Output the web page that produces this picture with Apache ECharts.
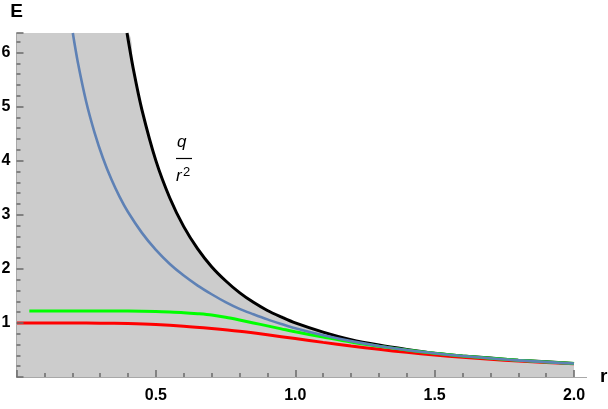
<!DOCTYPE html>
<html><head><meta charset="utf-8">
<script src="https://cdn.jsdelivr.net/npm/echarts@6/dist/echarts.min.js"></script>
<style>html,body{margin:0;padding:0;background:#fff}#c{width:608px;height:409px}</style>
</head><body><div id="c"></div>
<script>
// ---- data ----
const rBlack = [0.3965,0.42,0.45,0.5,0.55,0.6,0.65,0.7,0.75,0.8,0.85,0.9,0.95,1.0,1.1,1.2,1.3,1.4,1.5,1.6,1.7,1.8,1.9,2.0];
const eBlack = [6.36,5.67,4.94,4.0,3.31,2.78,2.37,2.04,1.78,1.56,1.38,1.23,1.11,1.0,0.83,0.69,0.59,0.51,0.44,0.39,0.35,0.31,0.28,0.25];
const rBlue  = [0.202,0.22,0.25,0.28,0.31,0.34,0.37,0.40,0.45,0.5,0.55,0.6,0.65,0.7,0.75,0.8,0.85,0.9,0.95,1.0,1.1,1.2,1.3,1.4,1.5,1.6,1.8,2.0];
const eBlue  = [6.36,5.82,5.09,4.52,4.05,3.66,3.33,3.05,2.665,2.35,2.09,1.875,1.69,1.53,1.385,1.26,1.16,1.065,0.98,0.90,0.77,0.663,0.574,0.50,0.44,0.388,0.308,0.25];
const rGreen = [0.046,0.2,0.3,0.4,0.5,0.55,0.6,0.65,0.7,0.75,0.8,0.85,0.9,0.95,1.0,1.1,1.2,1.3,1.4,1.5,1.6,1.8,2.0];
const eGreen = [1.222,1.222,1.221,1.218,1.212,1.203,1.19,1.17,1.145,1.105,1.055,1.0,0.945,0.89,0.835,0.74,0.648,0.57,0.50,0.44,0.39,0.31,0.25];
const rRed   = [0,0.1,0.2,0.3,0.4,0.5,0.6,0.7,0.8,0.9,1.0,1.1,1.2,1.3,1.4,1.5,1.6,1.7,1.8,1.9,2.0];
const eRed   = [1.0,1.0,0.999,0.996,0.987,0.97,0.94,0.897,0.846,0.781,0.71,0.64,0.574,0.511,0.456,0.407,0.365,0.328,0.296,0.268,0.244];
const yTop = 6.36;
const xMax = 2.0;
const xTickLabels = ['0.5','1.0','1.5','2.0'];
const yTickLabels = ['1','2','3','4','5','6'];

const zip = (a,b) => a.map((v,i)=>[v,b[i]]);
const grayArea = [[0, yTop]].concat(zip(rBlack, eBlack));

const chart = echarts.init(document.getElementById('c'), null, {renderer:'canvas'});
const axisGray = '#a8a8a8';
const tickGray = '#6f6f6f';
const labelFont = {color:'#000', fontWeight:'bold', fontSize:16, fontFamily:'Liberation Sans, Arial, sans-serif'};
const lineCommon = {type:'line', showSymbol:false, symbol:'none', smooth:0.3, animation:false, silent:true};

chart.setOption({
  animation:false,
  grid:{left:16.5, right:34, top:33, bottom:32, containLabel:false, outerBoundsMode:'none'},
  xAxis:{
    type:'value', min:0, max:xMax, interval:0.5, z:20,
    name:'r', nameLocation:'end', nameGap:26,
    nameTextStyle:{color:'#000', fontWeight:'bold', fontSize:19, fontFamily:'Liberation Sans, Arial, sans-serif', verticalAlign:'middle'},
    axisLine:{show:true, onZero:false, lineStyle:{color:axisGray, width:1}},
    axisTick:{show:true, inside:true, length:7, lineStyle:{color:tickGray, width:1.6}},
    minorTick:{show:true, splitNumber:5, length:4, lineStyle:{color:tickGray, width:1.6}},
    splitLine:{show:false},
    axisLabel:Object.assign({margin:11, formatter:function(v){const s=v.toFixed(1); return xTickLabels.indexOf(s)>=0 && Math.abs(v-parseFloat(s))<1e-9 ? s : '';}}, labelFont)
  },
  yAxis:{
    type:'value', min:0, max:yTop, interval:1, z:20,
    name:'E', nameLocation:'end', nameGap:12,
    nameTextStyle:{color:'#000', fontWeight:'bold', fontSize:19, fontFamily:'Liberation Sans, Arial, sans-serif', align:'center'},
    axisLine:{show:true, onZero:false, lineStyle:{color:axisGray, width:1}},
    axisTick:{show:true, inside:true, length:7, lineStyle:{color:tickGray, width:1.6}},
    minorTick:{show:true, splitNumber:5, length:4, lineStyle:{color:tickGray, width:1.6}},
    splitLine:{show:false},
    axisLabel:Object.assign({margin:6, showMaxLabel:false, formatter:function(v){const s=String(Math.round(v)); return (Math.abs(v-Math.round(v))<1e-9 && yTickLabels.indexOf(s)>=0) ? s : '';}}, labelFont)
  },
  series:[
    Object.assign({}, lineCommon, {name:'region', data:grayArea, lineStyle:{width:0}, areaStyle:{color:'#cccccc', opacity:1}, z:1}),
    Object.assign({}, lineCommon, {name:'q/r^2', data:zip(rBlack,eBlack), lineStyle:{color:'#000000', width:3}, z:2}),
    Object.assign({}, lineCommon, {name:'red', data:zip(rRed,eRed), lineStyle:{color:'#ff0000', width:3}, z:3}),
    Object.assign({}, lineCommon, {name:'green', data:zip(rGreen,eGreen), lineStyle:{color:'#00ff00', width:3}, z:4}),
    Object.assign({}, lineCommon, {name:'blue', data:zip(rBlue,eBlue), lineStyle:{color:'#5e81b5', width:2.6}, z:5})
  ],
  graphic:[
    {type:'line', z:30, shape:{x1:574, y1:377.5, x2:587, y2:377.5}, style:{stroke:axisGray, lineWidth:1}},
    {type:'text', left:177, top:134, style:{text:'q', font:'italic 17px "Liberation Sans", Arial, sans-serif', fill:'#000'}},
    {type:'line', shape:{x1:176, y1:158.5, x2:192, y2:158.5}, style:{stroke:'#000', lineWidth:1.2}},
    {type:'text', left:176, top:168, style:{text:'r', font:'italic 17px "Liberation Sans", Arial, sans-serif', fill:'#000'}},
    {type:'text', left:183, top:166, style:{text:'2', font:'13px "Liberation Sans", Arial, sans-serif', fill:'#000'}}
  ]
});
</script></body></html>
